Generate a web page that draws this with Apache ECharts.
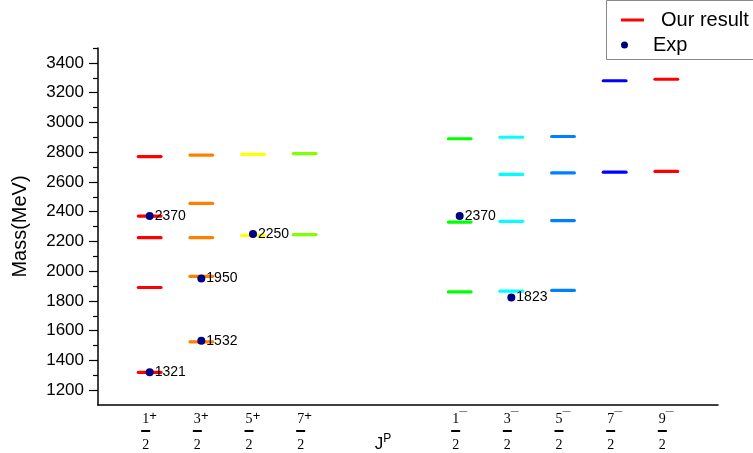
<!DOCTYPE html>
<html><head><meta charset="utf-8">
<script src="https://cdn.jsdelivr.net/npm/echarts@6/dist/echarts.min.js"></script>
<style>html,body{margin:0;padding:0;background:#fff}#c{width:753px;height:453px}</style>
</head><body><div id="c"></div>
<script>
// J^P categories: numerator, parity sign, x position on the axis
const jpNum = ['1','3','5','7','1','3','5','7','9'];
const jpSign = ['+','+','+','+','-','-','-','-','-'];
const jpPos = [1,2,3,4,7,8,9,10,11];
// calculated masses (MeV) for each J^P
const lv_1p = [1320,1890,2225,2370,2770];
const lv_3p = [1525,1965,2225,2455,2780];
const lv_5p = [2240,2785];
const lv_7p = [2245,2790];
const lv_1m = [1860,2330,2890];
const lv_3m = [1865,2335,2650,2900];
const lv_5m = [1870,2340,2660,2905];
const lv_7m = [2665,3280];
const lv_9m = [2670,3290];
const levels = [lv_1p,lv_3p,lv_5p,lv_7p,lv_1m,lv_3m,lv_5m,lv_7m,lv_9m];
const levelColors = ['#ff0000','#ff8000','#ffff00','#80ff00','#00ff00','#00ffff','#0080ff','#0000ff','#ff0000'];
// experimental masses
const expPos = [1,1,2,2,3,7,8];
const expMass = [1321,2370,1532,1950,2250,2370,1823];
// y ticks
const yMajor = [1200,1400,1600,1800,2000,2200,2400,2600,2800,3000,3200,3400];
const yMinor = [1300,1500,1700,1900,2100,2300,2500,2700,2900,3100,3300,3500];

const segData = [];
levels.forEach((arr,i)=>arr.forEach(m=>segData.push([jpPos[i], m, i])));
const expData = expPos.map((p,i)=>[p, expMass[i]]);

const chart = echarts.init(document.getElementById('c'));
const fontSans = 'Liberation Sans, Arial, sans-serif';
const fontSerif = 'Liberation Serif, DejaVu Serif, serif';

chart.setOption({
  animation:false,
  backgroundColor:'#fff',
  grid:{left:98,right:35,top:48,bottom:48,containLabel:false,outerBoundsMode:'none'},
  xAxis:{
    type:'value', min:0, max:12, interval:1,
    splitLine:{show:false},
    axisLine:{onZero:false, lineStyle:{color:'#000', width:1.5}},
    axisTick:{show:false},
    axisLabel:{
      customValues: jpPos,
      margin:8,
      fontFamily:fontSerif,
      formatter:(v)=>{
        const i = jpPos.indexOf(v);
        if(i<0) return '';
        const s = jpSign[i]==='+' ? '{sp|+}' : '{sm|\u2014}';
        return '{n|'+jpNum[i]+'}'+s+'\n{b|}{pad|}\n{d|2}{pad|}';
      },
      rich:{
        n:{fontFamily:fontSerif,fontSize:14,color:'#000',lineHeight:12},
        d:{fontFamily:fontSerif,fontSize:14,color:'#000',lineHeight:16},
        sp:{fontFamily:fontSans,fontSize:13,color:'#000',width:8,lineHeight:12,padding:[0,0,5,0]},
        sm:{fontFamily:fontSans,fontSize:8,color:'#000',width:8,lineHeight:12,padding:[0,0,16,0]},
        b:{width:9,height:2,backgroundColor:'#000',lineHeight:7},
        pad:{width:8}
      }
    },
    name:'{j|J}{p|P}',
    nameLocation:'middle',
    nameGap:28,
    nameMoveOverlap:false,
    nameTextStyle:{
      padding:[0,50,0,0],
      rich:{
        j:{fontFamily:fontSans,fontSize:17,color:'#000'},
        p:{fontFamily:fontSans,fontSize:12,color:'#000',padding:[0,0,10,0]}
      }
    }
  },
  yAxis:[{
    type:'value', min:1100, max:3500, interval:100,
    splitLine:{show:false},
    axisLine:{show:true, lineStyle:{color:'#000', width:1.5}},
    axisTick:{show:true, customValues:yMajor, length:9, lineStyle:{color:'#000',width:1.2}},
    axisLabel:{customValues:yMajor, formatter:(v)=>String(v), fontFamily:fontSans, fontSize:17, color:'#000', margin:14},
    name:'Mass(MeV)',
    nameLocation:'middle',
    nameGap:68,
    nameMoveOverlap:false,
    nameTextStyle:{fontFamily:fontSans,fontSize:20,color:'#000'}
  },{
    type:'value', min:1100, max:3500, interval:100, position:'left',
    splitLine:{show:false},
    axisLine:{show:false},
    axisTick:{show:true, customValues:yMinor, length:5, lineStyle:{color:'#000',width:1.2}},
    axisLabel:{show:false}
  }],
  legend:[{
    data:[{name:'Our result', icon:'rect'}],
    left:621, top:10, itemWidth:23, itemHeight:3, padding:0,
    textStyle:{fontFamily:fontSans,fontSize:20,color:'#000',padding:[0,0,0,12]}
  },{
    data:[{name:'Exp', icon:'circle'}],
    left:621, top:35, itemWidth:23, itemHeight:7, padding:0,
    textStyle:{fontFamily:fontSans,fontSize:20,color:'#000',padding:[0,0,0,12]}
  }],
  graphic:[{
    type:'rect', shape:{x:606.5,y:0.5,width:150,height:59},
    style:{fill:'none',stroke:'#888',lineWidth:1}
  }],
  series:[{
    name:'Our result',
    type:'custom',
    itemStyle:{color:'#ff0000'},
    data:segData,
    encode:{x:0,y:1},
    renderItem:(params,api)=>{
      const x = api.value(0), y = api.value(1), ci = api.value(2);
      const p1 = api.coord([x-0.22, y]);
      const p2 = api.coord([x+0.22, y]);
      return {type:'line', shape:{x1:p1[0],y1:p1[1],x2:p2[0],y2:p2[1]},
        style:{stroke:levelColors[ci], lineWidth:3.2, lineCap:'round'}};
    }
  },{
    name:'Exp',
    type:'scatter',
    z:5,
    symbol:'circle',
    symbolSize:8,
    itemStyle:{color:'#000080', opacity:1},
    data:expData,
    label:{show:true, position:'right', distance:1, formatter:(p)=>String(p.value[1]),
      fontFamily:fontSans, fontSize:14, color:'#000'}
  }]
});
</script></body></html>
